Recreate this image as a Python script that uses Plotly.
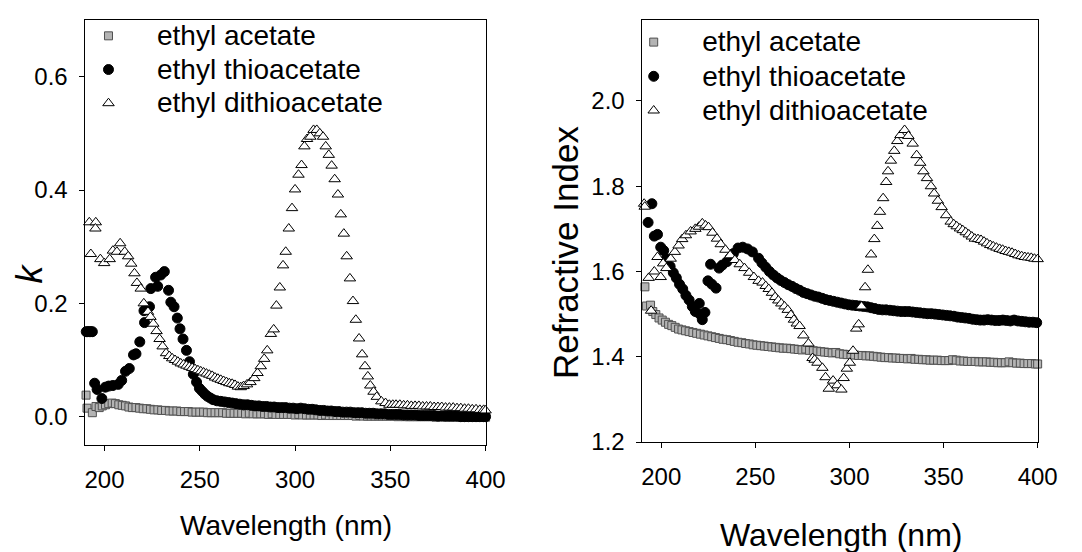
import plotly.graph_objects as go

# ---------------- data: extinction coefficient k (left panel) ----------------
k_acetate_wl = [190.3, 190.8, 193.6, 195.5, 197.2, 198.8, 200.5, 202.2, 204.0, 205.7,
                207.5, 209.3, 211.0, 212.8, 214.6, 216.5, 218.4, 220.3, 222.2, 224.1,
                226, 228, 230, 232, 234, 236, 238, 240, 242, 244,
                246, 248, 250, 252, 254, 256, 258, 260, 262, 264,
                266, 268, 270, 272, 274, 276, 278, 280, 282, 284,
                286, 288, 290, 292, 294, 296, 298, 300, 302, 304,
                306, 308, 310, 312, 314, 316, 318, 320, 322, 324,
                326, 328, 330, 332, 334, 336, 338, 340, 342, 344,
                346, 348, 350, 352, 354, 356, 358, 360, 362, 364,
                366, 368, 370, 372, 374, 376, 378, 380, 382, 384,
                386, 388, 390, 392, 394, 396, 398, 400]
k_acetate = [0.038, 0.015, 0.007, 0.018, 0.016, 0.019, 0.021, 0.023, 0.024, 0.023,
             0.021, 0.020, 0.019, 0.017, 0.016, 0.016, 0.015, 0.014, 0.014, 0.013,
             0.012, 0.012, 0.011, 0.011, 0.010, 0.010, 0.010, 0.009, 0.009, 0.009,
             0.008, 0.008, 0.008, 0.008, 0.007, 0.007, 0.007, 0.007, 0.007, 0.006,
             0.006, 0.006, 0.006, 0.006, 0.005, 0.006, 0.005, 0.005, 0.005, 0.005,
             0.004, 0.005, 0.004, 0.004, 0.004, 0.004, 0.004, 0.003, 0.004, 0.003,
             0.003, 0.003, 0.003, 0.003, 0.002, 0.003, 0.002, 0.002, 0.002, 0.002,
             0.002, 0.002, 0.002, 0.001, 0.002, 0.001, 0.001, 0.001, 0.001, 0.001,
             0.001, 0.001, 0.001, 0.001, 0.000, 0.001, 0.000, 0.000, 0.000, 0.000,
             0.000, 0.000, 0.000, 0.000, -0.001, 0.000, 0.000, -0.001, 0.000, -0.001,
             0.000, -0.001, -0.001, 0.000, -0.001, -0.001, -0.001, -0.001]

k_thio_wl = [190.4, 191.2, 192.0, 192.8, 193.6, 194.8, 196.1, 198.6, 200.4, 202.2,
             204.4, 207.2, 209.0, 211.0, 213.0, 215.2, 216.5, 218.5, 221.0, 220.7,
             223.6, 224.3, 226.8, 227.9, 229.5, 231.4, 233.6, 234.8, 236.5, 238.2,
             239.6, 241.2, 243.0, 244.6, 246.6, 248.3, 249.8, 251.2, 252.6, 254.0,
             255.5, 257, 259, 261, 263, 265, 267, 269, 271, 273,
             275, 277, 279, 281, 283, 285, 287, 289, 291, 293,
             295, 297, 299, 301, 303, 305, 307, 309, 311, 313,
             315, 317, 319, 321, 323, 325, 327, 329, 331, 333,
             335, 337, 339, 341, 343, 345, 347, 349, 351, 353,
             355, 357, 359, 361, 363, 365, 367, 369, 371, 373,
             375, 377, 379, 381, 383, 385, 387, 389, 391, 393,
             395, 397, 399, 400]
k_thio = [0.150, 0.150, 0.150, 0.150, 0.150, 0.059, 0.048, 0.032, 0.052, 0.054,
          0.055, 0.057, 0.064, 0.080, 0.085, 0.109, 0.111, 0.132, 0.166, 0.187,
          0.194, 0.226, 0.246, 0.230, 0.250, 0.256, 0.223, 0.202, 0.194, 0.174,
          0.155, 0.137, 0.117, 0.097, 0.075, 0.061, 0.050, 0.045, 0.040, 0.036,
          0.033, 0.030, 0.028, 0.027, 0.026, 0.025, 0.024, 0.023, 0.022, 0.021,
          0.021, 0.020, 0.019, 0.019, 0.018, 0.018, 0.017, 0.017, 0.016, 0.016,
          0.016, 0.015, 0.015, 0.014, 0.015, 0.014, 0.013, 0.013, 0.012, 0.011,
          0.011, 0.010, 0.010, 0.009, 0.009, 0.008, 0.008, 0.008, 0.007, 0.007,
          0.007, 0.006, 0.006, 0.006, 0.005, 0.005, 0.005, 0.004, 0.004, 0.004,
          0.004, 0.003, 0.003, 0.003, 0.003, 0.002, 0.002, 0.002, 0.002, 0.002,
          0.001, 0.001, 0.001, 0.001, 0.001, 0.001, 0.000, 0.000, 0.000, 0.000,
          0.000, 0.000, 0.000, 0.000]

k_dithio_wl = [192.0, 195.4, 195.2, 192.8, 197.8, 199.8, 202.7, 204.4, 206.5, 208.2,
               210.6, 212.4, 214.0, 215.7, 217.0, 219.0, 220.6, 222.8, 224.1, 225.6,
               227.3, 228.9, 230.5, 232.3, 234.0, 235.5, 237.0, 238.5, 240.0, 241.5,
               243.0, 244.5, 246.0, 247.5, 249.0, 250.5, 252.0, 253.5, 255.0, 256.5,
               258.0, 259.5, 261.0, 262.5, 264.0, 265.5, 267.0, 268.5, 270.0, 271.5,
               273.0, 274.8, 276.6, 278.6, 280.3, 282.0, 283.8, 285.4, 287.3, 288.8,
               290.2, 292.0, 293.7, 295.1, 296.7, 298.4, 300.0, 301.8, 303.4, 304.9,
               306.3, 308.0, 309.7, 311.4, 313.0, 314.7, 316.1, 317.7, 319.2, 320.8,
               322.5, 324.0, 325.6, 327.1, 328.8, 330.4, 331.9, 333.6, 335.2, 336.7,
               338.2, 339.5, 341.2, 342.9, 345.3, 347.5, 349.5, 351.3, 353.0, 355.0,
               357, 359, 361, 363, 365, 367, 369, 371, 373, 375,
               377, 379, 381, 383, 385, 387, 389, 391, 393, 395,
               397, 399, 400]
k_dithio = [0.343, 0.343, 0.332, 0.287, 0.278, 0.271, 0.278, 0.293, 0.291, 0.306,
            0.291, 0.283, 0.270, 0.253, 0.236, 0.226, 0.200, 0.185, 0.176, 0.164,
            0.151, 0.137, 0.124, 0.112, 0.107, 0.103, 0.100, 0.097, 0.094, 0.092,
            0.090, 0.088, 0.086, 0.084, 0.082, 0.080, 0.078, 0.076, 0.074, 0.072,
            0.069, 0.067, 0.065, 0.063, 0.061, 0.059, 0.058, 0.056, 0.053, 0.052,
            0.054, 0.057, 0.061, 0.068, 0.077, 0.089, 0.102, 0.117, 0.146, 0.154,
            0.196, 0.228, 0.267, 0.291, 0.332, 0.368, 0.401, 0.427, 0.444, 0.477,
            0.490, 0.494, 0.506, 0.506, 0.500, 0.494, 0.477, 0.462, 0.443, 0.419,
            0.392, 0.357, 0.323, 0.283, 0.244, 0.204, 0.171, 0.138, 0.110, 0.089,
            0.071, 0.055, 0.044, 0.035, 0.027, 0.024, 0.021, 0.021, 0.021, 0.021,
            0.020, 0.020, 0.019, 0.019, 0.019, 0.018, 0.018, 0.018, 0.017, 0.017,
            0.017, 0.016, 0.016, 0.016, 0.015, 0.015, 0.014, 0.014, 0.013, 0.013,
            0.012, 0.012, 0.011]

# ---------------- data: refractive index n (right panel) ----------------
n_acetate_wl = [189.9, 191.3, 192.1, 194.3, 195.5, 197.1, 198.8, 200.5, 202.2, 203.9,
                205.6, 207.4, 209.2, 211.0, 212.9, 214.8, 216.8, 218.8, 220.8, 222.8,
                224.8, 226.8, 228.8, 230.8, 232.8, 234.8, 236.8, 238.8, 240.8, 242.8,
                244.8, 246.8, 248.8, 250.8, 252.8, 254.8, 256.8, 258.8, 260.8, 262.8,
                264.8, 266.8, 268.8, 270.8, 272.8, 274.8, 276.8, 278.8, 280.8, 282.8,
                284.8, 286.8, 288.8, 290.8, 292.8, 294.8, 296.8, 298.8, 300.8, 302.8,
                304.8, 306.8, 308.8, 310.8, 312.8, 314.8, 316.8, 318.8, 320.8, 322.8,
                324.8, 326.8, 328.8, 330.8, 332.8, 334.8, 336.8, 338.8, 340.8, 342.8,
                344.8, 346.8, 348.8, 350.8, 352.8, 354.8, 356.8, 358.8, 360.8, 362.8,
                364.8, 366.8, 368.8, 370.8, 372.8, 374.8, 376.8, 378.8, 380.8, 382.8,
                384.8, 386.8, 388.8, 390.8, 392.8, 394.8, 396.8, 398.8, 400.0]
n_acetate = [1.476, 1.564, 1.519, 1.521, 1.506, 1.499, 1.491, 1.486, 1.481, 1.476,
             1.473, 1.469, 1.465, 1.463, 1.461, 1.459, 1.457, 1.455, 1.453, 1.451,
             1.449, 1.447, 1.445, 1.443, 1.441, 1.440, 1.438, 1.436, 1.434, 1.433,
             1.431, 1.430, 1.428, 1.427, 1.426, 1.425, 1.424, 1.423, 1.422, 1.421,
             1.420, 1.420, 1.419, 1.418, 1.417, 1.416, 1.418, 1.415, 1.414, 1.413,
             1.412, 1.411, 1.410, 1.409, 1.410, 1.407, 1.406, 1.405, 1.405, 1.404,
             1.403, 1.403, 1.402, 1.402, 1.401, 1.400, 1.399, 1.398, 1.398, 1.397,
             1.397, 1.396, 1.396, 1.395, 1.396, 1.394, 1.394, 1.393, 1.393, 1.392,
             1.392, 1.392, 1.391, 1.391, 1.391, 1.393, 1.392, 1.390, 1.390, 1.389,
             1.389, 1.389, 1.388, 1.388, 1.388, 1.387, 1.387, 1.386, 1.386, 1.386,
             1.388, 1.386, 1.385, 1.385, 1.384, 1.384, 1.384, 1.383, 1.383]

n_thio_wl = [193.0, 195.0, 196.3, 198.0, 199.7, 201.3, 202.7, 204.7, 206.4, 208.0,
             209.7, 211.4, 213.1, 214.8, 216.5, 218.1, 220.2, 220.7, 221.8, 223.2,
             224.8, 226.9, 229.1, 226.2, 230.7, 232.4, 234.9, 236.6, 238.3, 240.8,
             243.3, 245.8, 248.4, 251.7, 253.5, 255.5, 257.5, 259.5, 261.5, 263.5,
             265.5, 267.5, 269.5, 271.5, 273.5, 275.5, 277.5, 279.5, 281.5, 283.5,
             285.5, 287.5, 289.5, 291.5, 293.5, 295.5, 297.5, 299.5, 301.5, 303.5,
             305.5, 307.5, 309.5, 311.5, 313.5, 315.5, 317.5, 319.5, 321.5, 323.5,
             325.5, 327.5, 329.5, 331.5, 333.5, 335.5, 337.5, 339.5, 341.5, 343.5,
             345.5, 347.5, 349.5, 351.5, 353.5, 355.5, 357.5, 359.5, 361.5, 363.5,
             365.5, 367.5, 369.5, 371.5, 373.5, 375.5, 377.5, 379.5, 381.5, 383.5,
             385.5, 387.5, 389.5, 391.5, 393.5, 395.5, 397.5, 399.5]
n_thio = [1.715, 1.759, 1.683, 1.687, 1.657, 1.649, 1.630, 1.612, 1.597, 1.585,
          1.570, 1.559, 1.544, 1.533, 1.518, 1.506, 1.525, 1.499, 1.487, 1.504,
          1.578, 1.570, 1.561, 1.617, 1.608, 1.615, 1.623, 1.632, 1.642, 1.655,
          1.657, 1.653, 1.646, 1.631, 1.620, 1.610, 1.600, 1.592, 1.585, 1.579,
          1.574, 1.569, 1.565, 1.560, 1.556, 1.551, 1.548, 1.545, 1.542, 1.540,
          1.537, 1.534, 1.532, 1.530, 1.528, 1.526, 1.524, 1.522, 1.521, 1.520,
          1.519, 1.518, 1.517, 1.515, 1.513, 1.511, 1.510, 1.510, 1.509, 1.508,
          1.507, 1.506, 1.506, 1.506, 1.505, 1.504, 1.503, 1.502, 1.501, 1.501,
          1.500, 1.499, 1.498, 1.497, 1.496, 1.495, 1.493, 1.492, 1.491, 1.490,
          1.488, 1.487, 1.486, 1.486, 1.487, 1.486, 1.485, 1.485, 1.486, 1.485,
          1.484, 1.486, 1.484, 1.483, 1.482, 1.481, 1.481, 1.480]

n_dithio_wl = [190.9, 191.2, 193.3, 194.6, 196.3, 198.0, 199.7, 201.0, 202.7, 205.0,
               207.2, 209.2, 211.1, 213.1, 215.6, 218.1, 220.0, 221.8, 223.5, 225.1,
               227.2, 229.6, 231.6, 234.1, 236.6, 239.1, 241.7, 244.2, 246.7, 249.2,
               251.7, 253.8, 255.5, 257.1, 258.8, 260.5, 262.2, 263.8, 265.5, 267.2,
               268.9, 270.5, 272.0, 273.5, 275.5, 278.2, 280.4, 281.5, 283.0, 285.6,
               287.3, 289.0, 291.3, 293.5, 295.7, 296.9, 298.6, 300.2, 301.9, 303.6,
               304.9, 306.4, 308.3, 309.8, 311.5, 313.2, 314.8, 316.2, 317.9, 319.5,
               320.5, 322.0, 323.8, 325.4, 327.1, 329.3, 331.3, 333.6, 335.7, 337.6,
               339.3, 341.2, 343.3, 345.0, 347.0, 349.0, 351.4, 353.8, 355.4, 357.0,
               358.7, 360.2, 361.8, 363.4, 365.0, 366.6, 368.3, 369.9, 371.5, 373.1,
               374.8, 376.4, 378.1, 379.8, 381.4, 383.0, 384.7, 386.4, 388.1, 389.8,
               391.5, 393.2, 394.9, 396.6, 398.3, 400.0]
n_dithio = [1.759, 1.752, 1.585, 1.508, 1.600, 1.634, 1.587, 1.619, 1.608, 1.630,
            1.646, 1.661, 1.676, 1.685, 1.694, 1.700, 1.705, 1.713, 1.708, 1.704,
            1.691, 1.677, 1.664, 1.651, 1.638, 1.627, 1.617, 1.608, 1.597, 1.587,
            1.578, 1.574, 1.566, 1.559, 1.550, 1.540, 1.532, 1.525, 1.518, 1.510,
            1.498, 1.487, 1.478, 1.472, 1.450, 1.431, 1.397, 1.393, 1.386, 1.374,
            1.352, 1.325, 1.344, 1.333, 1.323, 1.350, 1.372, 1.386, 1.414, 1.466,
            1.476, 1.518, 1.563, 1.604, 1.640, 1.676, 1.707, 1.740, 1.772, 1.810,
            1.835, 1.860, 1.883, 1.906, 1.920, 1.932, 1.918, 1.900, 1.873, 1.855,
            1.835, 1.819, 1.800, 1.783, 1.766, 1.751, 1.732, 1.717, 1.711, 1.706,
            1.701, 1.697, 1.692, 1.687, 1.682, 1.677, 1.676, 1.674, 1.670, 1.666,
            1.662, 1.659, 1.656, 1.653, 1.651, 1.648, 1.646, 1.644, 1.641, 1.638,
            1.636, 1.634, 1.633, 1.632, 1.630, 1.629]

series_names = ["ethyl acetate", "ethyl thioacetate", "ethyl dithioacetate"]
x_ticks = [200, 250, 300, 350, 400]
k_ticks = [0.0, 0.2, 0.4, 0.6]
n_ticks = [1.2, 1.4, 1.6, 1.8, 2.0]

# ---------------- styling ----------------
W, H = 1082, 552
FONT = "Liberation Sans, Arial, sans-serif"
TOP, BOT = 12, 437          # pixel rows of the left frame
BOT_R = 434                 # bottom of the right frame
PLOT_H = BOT - TOP
styles = [
    dict(symbol="square", size=8, color="#b4b4b4", line=dict(color="#505050", width=1)),
    dict(symbol="circle", size=10, color="black", line=dict(color="black", width=1)),
    dict(symbol="triangle-up", size=10, color="white", line=dict(color="black", width=1)),
]


def px_x(p):
    return p / W


def px_y(p):
    return (BOT - p) / PLOT_H


def legend_label(s):
    return '<span style="font-size:28px">%s</span>' % s


fig = go.Figure()
left_data = [(k_acetate_wl, k_acetate), (k_thio_wl, k_thio), (k_dithio_wl, k_dithio)]
right_data = [(n_acetate_wl, n_acetate), (n_thio_wl, n_thio), (n_dithio_wl, n_dithio)]
for i, (xs, ys) in enumerate(left_data):
    fig.add_trace(go.Scatter(x=xs, y=ys, mode="markers", name=legend_label(series_names[i]),
                             marker=styles[i], xaxis="x", yaxis="y", legend="legend",
                             legendgroup="L%d" % i, cliponaxis=False))
for i, (xs, ys) in enumerate(right_data):
    fig.add_trace(go.Scatter(x=xs, y=ys, mode="markers", name=legend_label(series_names[i]),
                             marker=styles[i], xaxis="x2", yaxis="y2", legend="legend2",
                             legendgroup="R%d" % i, cliponaxis=False))

axis_common = dict(showline=True, linecolor="black", linewidth=1, mirror=True,
                   ticks="outside", ticklen=5, tickwidth=1, tickcolor="black",
                   showgrid=False, zeroline=False,
                   tickfont=dict(family=FONT, size=24, color="black"))

fig.update_layout(
    width=W, height=H, autosize=False,
    margin=dict(l=0, r=0, t=TOP, b=H - BOT, pad=0),
    paper_bgcolor="white", plot_bgcolor="white",
    font=dict(family=FONT, color="black"),
    xaxis=dict(domain=[px_x(78), px_x(486)], range=[190, 400], tickvals=x_ticks,
               anchor="y", ticklabelstandoff=8, **axis_common),
    yaxis=dict(domain=[0, 1], range=[-0.05, 0.70], tickvals=k_ticks,
               tickformat=".1f", anchor="x", ticklabelstandoff=7, **axis_common),
    xaxis2=dict(domain=[px_x(646), px_x(1049)], range=[190, 400], tickvals=x_ticks,
                anchor="y2", ticklabelstandoff=8, **axis_common),
    yaxis2=dict(domain=[px_y(BOT_R), 1], range=[1.2, 2.19], tickvals=n_ticks,
                tickformat=".1f", anchor="x2", ticklabelstandoff=7, **axis_common),
    legend=dict(x=px_x(52), y=px_y(6), xanchor="left", yanchor="top",
                bgcolor="rgba(0,0,0,0)", borderwidth=0, itemwidth=87,
                font=dict(family=FONT, size=23.6, color="black"), tracegroupgap=0),
    legend2=dict(x=px_x(608), y=px_y(12), xanchor="left", yanchor="top",
                 bgcolor="rgba(0,0,0,0)", borderwidth=0, itemwidth=87,
                 font=dict(family=FONT, size=24, color="black"), tracegroupgap=0),
    showlegend=True,
)

annotations = [
    dict(text="<i>k</i>", x=px_x(20), y=px_y(266), textangle=-90,
         font=dict(family=FONT, size=36)),
    dict(text="Refractive Index", x=px_x(567), y=px_y(244), textangle=-90,
         font=dict(family=FONT, size=35)),
    dict(text="Wavelength (nm)", x=px_x(282), y=px_y(517),
         font=dict(family=FONT, size=28)),
    dict(text="Wavelength (nm)", x=px_x(848), y=px_y(527),
         font=dict(family=FONT, size=32)),
]
for a in annotations:
    a.update(xref="paper", yref="paper", showarrow=False, xanchor="center",
             yanchor="middle")
fig.update_layout(annotations=annotations)

fig.write_html("out.html")
